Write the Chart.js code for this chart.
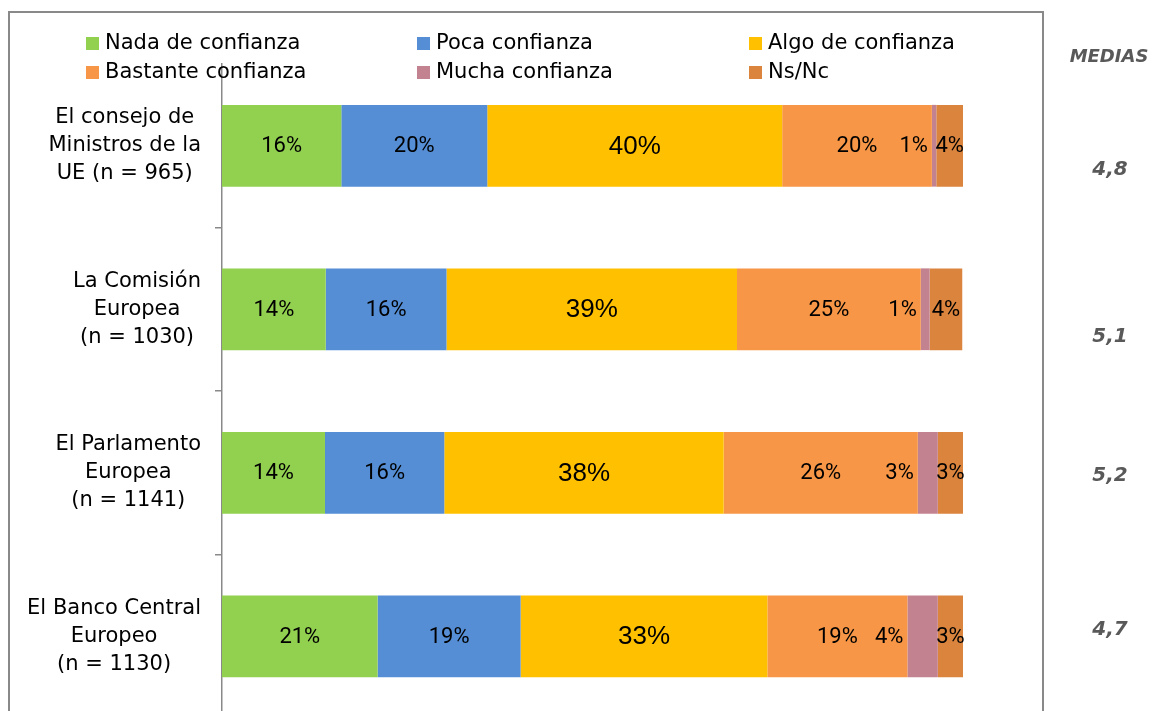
<!DOCTYPE html>
<html>
<head>
<meta charset="utf-8">
<script src="https://cdn.jsdelivr.net/npm/chart.js@4"></script>
<style>
  body { margin: 0; overflow: hidden; background: #fff; }
  #wrap { width: 1152px; height: 711px; overflow: hidden; }
</style>
</head>
<body>
<div id="wrap"><canvas id="myChart" width="1152" height="740"></canvas></div>
<script>
// ---- data ----
const categories = [
    ['El consejo de', 'Ministros de la', 'UE (n = 965)'],
    ['La Comisión', 'Europea', '(n = 1030)'],
    ['El Parlamento', 'Europea', '(n = 1141)'],
    ['El Banco Central', 'Europeo', '(n = 1130)']
];
const nada     = [16.1, 14.0, 13.9, 21.0];
const poca     = [19.7, 16.3, 16.1, 19.3];
const algo     = [39.8, 39.2, 37.7, 33.3];
const bastante = [20.2, 24.8, 26.2, 18.9];
const mucha    = [0.6, 1.2, 2.7, 4.1];
const nsnc     = [3.6, 4.4, 3.4, 3.4];
const medias   = ['4,8', '5,1', '5,2', '4,7'];

// estilos
const GRAY = '#898989';
const labelFont = "22px Roboto, sans-serif";
const bigFont = "26px 'Liberation Sans', Arial, sans-serif";
const textFont = "21px 'DejaVu Sans', sans-serif";
const mediaShift = [24, 28, 3, -6];

function ds(label, data, color) {
    return {
        label: label,
        data: data,
        backgroundColor: color,
        borderWidth: 0,
        barPercentage: 0.5,
        categoryPercentage: 1
    };
}

const data = {
    labels: categories,
    datasets: [
        ds('Nada de confianza', nada, '#92D050'),
        ds('Poca confianza', poca, '#558ED5'),
        ds('Algo de confianza', algo, '#FFC000'),
        ds('Bastante confianza', bastante, '#F79646'),
        ds('Mucha confianza', mucha, '#C3828F'),
        ds('Ns/Nc', nsnc, '#DB843D')
    ]
};

// marco, leyenda, etiquetas y medias
const decor = {
    id: 'decor',
    beforeDraw(chart) {
        const ctx = chart.ctx;
        ctx.save();
        ctx.strokeStyle = GRAY;
        ctx.lineWidth = 2;
        ctx.strokeRect(9, 12, 1034, 800);
        ctx.restore();
    },
    afterDraw(chart) {
        const ctx = chart.ctx;
        const y = chart.scales.y;
        ctx.save();

        // leyenda
        const colX = [86, 417, 749];
        const rowY = [43.5, 72.5];
        ctx.font = textFont;
        ctx.textBaseline = 'middle';
        ctx.textAlign = 'left';
        chart.data.datasets.forEach((d, i) => {
            const x = colX[i % 3];
            const yy = rowY[Math.floor(i / 3)];
            ctx.fillStyle = d.backgroundColor;
            ctx.fillRect(x, yy - 6.5, 13, 13);
            ctx.fillStyle = '#000';
            ctx.fillText(d.label, x + 19, yy);
        });

        // categorías
        ctx.font = textFont;
        ctx.textAlign = 'center';
        categories.forEach((lines, i) => {
            const cy = y.getPixelForValue(i);
            const w = Math.max(...lines.map(l => ctx.measureText(l).width));
            const cx = 201 - w / 2;
            lines.forEach((l, j) => {
                ctx.fillText(l, cx, cy + (j - (lines.length - 1) / 2) * 28);
            });
        });

        // etiquetas de datos
        chart.data.datasets.forEach((d, di) => {
            chart.getDatasetMeta(di).data.forEach((el, i) => {
                const txt = Math.round(d.data[i]) + '%';
                ctx.fillStyle = '#000';
                ctx.font = (di === 2) ? bigFont : labelFont;
                if (di === 4) {
                    ctx.textAlign = 'right';
                    ctx.fillText(txt, el.base - 4, el.y + 1);
                } else {
                    ctx.textAlign = 'center';
                    ctx.fillText(txt, (el.x + el.base) / 2, el.y + 1);
                }
            });
        });

        // medias
        ctx.fillStyle = '#595959';
        ctx.textAlign = 'center';
        ctx.font = "italic bold 18px 'DejaVu Sans', sans-serif";
        ctx.fillText('MEDIAS', 1109, 57);
        ctx.font = "italic bold 20px 'DejaVu Sans', sans-serif";
        medias.forEach((m, i) => {
            ctx.fillText(m, 1110, y.getPixelForValue(i) + mediaShift[i]);
        });
        ctx.restore();
    }
};

const config = {
    type: 'bar',
    data: data,
    options: {
        indexAxis: 'y',
        responsive: false,
        animation: false,
        layout: {
            padding: { top: 64, bottom: 22, left: 0, right: 189 }
        },
        plugins: {
            legend: { display: false },
            tooltip: { enabled: false }
        },
        scales: {
            x: {
                stacked: true,
                display: false,
                min: 0,
                max: 100
            },
            y: {
                stacked: true,
                afterFit: (s) => { s.width = 222; },
                ticks: { display: false },
                border: { display: true, color: GRAY, width: 1.5 },
                grid: {
                    offset: true,
                    drawOnChartArea: false,
                    tickLength: 7,
                    lineWidth: 1.5,
                    color: (c) => (c.index === undefined || c.index === 0) ? 'transparent' : GRAY
                }
            }
        }
    },
    plugins: [decor]
};

const myChart = new Chart(document.getElementById('myChart'), config);
</script>
</body>
</html>
